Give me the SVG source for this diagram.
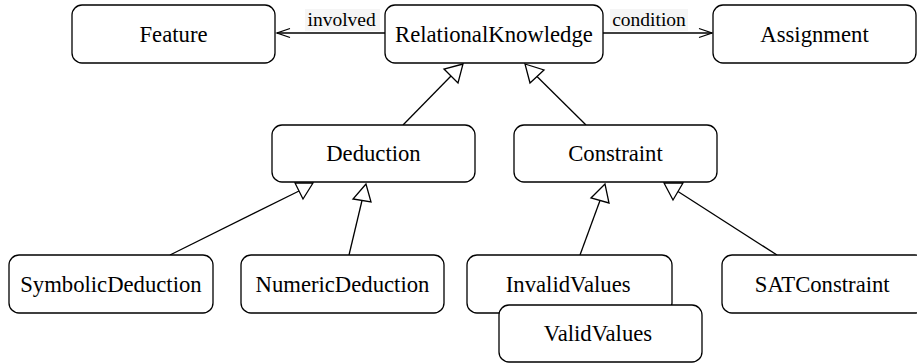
<svg xmlns="http://www.w3.org/2000/svg" width="917" height="363" viewBox="0 0 917 363" font-family="'Liberation Serif', 'Times New Roman', 'DejaVu Serif', serif">
<style>
.box{fill:#fff;stroke:#000;stroke-width:1.3}
.edge line,.edge polyline{stroke:#000;stroke-width:1.3;fill:none}
.edge polygon{fill:#fff;stroke:#000;stroke-width:1.3}
.lblbg{fill:#f5f5f5}
</style>
<rect width="917" height="363" fill="#fff"/>
<g id="connectors" class="edge">
  <rect class="lblbg" x="305" y="9" width="75" height="22"/>
  <text x="307.5" y="26" font-family="serif" font-size="19.5">involved</text>
  <line x1="385" y1="33" x2="277" y2="33"/>
  <polyline points="290,28.5 277,33 290,37.5"/>
  <rect class="lblbg" x="610" y="9" width="78" height="22"/>
  <text x="612.2" y="26" font-family="serif" font-size="19.5">condition</text>
  <line x1="603" y1="33" x2="712" y2="33"/>
  <polyline points="699,28.5 712,33 699,37.5"/>
  <line x1="403" y1="125" x2="451" y2="76"/>
  <polygon points="463,64 444,69 458,83"/>
  <line x1="586" y1="125" x2="537" y2="76.5"/>
  <polygon points="525,64 544,70 530,83"/>
  <line x1="170" y1="255" x2="299" y2="191"/>
  <polygon points="313,183 295,183 303,199"/>
  <line x1="349" y1="255" x2="362" y2="200.5"/>
  <polygon points="366,184 353,199 371,202"/>
  <line x1="580" y1="255" x2="600" y2="200.5"/>
  <polygon points="605,184 591,198 609,203"/>
  <line x1="777" y1="255" x2="678" y2="191.5"/>
  <polygon points="664,183 683,183 673,200"/>
</g>
<g id="Feature"><rect class="box" x="72" y="5" width="203" height="58" rx="10"/><text x="139.5" y="41.5" font-family="serif" font-size="22.7">Feature</text></g>
<g id="RelationalKnowledge"><rect class="box" x="385" y="5" width="218" height="58" rx="10"/><text x="395" y="41.5" font-family="serif" font-size="22.7">RelationalKnowledge</text></g>
<g id="Assignment"><rect class="box" x="713" y="5" width="203" height="58" rx="10"/><text x="760.3" y="41.5" font-family="serif" font-size="22.7">Assignment</text></g>
<g id="Deduction"><rect class="box" x="272" y="125" width="203" height="57" rx="10"/><text x="326.2" y="161" font-family="serif" font-size="22.7">Deduction</text></g>
<g id="Constraint"><rect class="box" x="514" y="125" width="203" height="57" rx="10"/><text x="568.2" y="161" font-family="serif" font-size="22.7">Constraint</text></g>
<g id="SymbolicDeduction"><rect class="box" x="9" y="255" width="204" height="58" rx="10"/><text x="20.2" y="291.5" font-family="serif" font-size="22.7">SymbolicDeduction</text></g>
<g id="NumericDeduction"><rect class="box" x="241" y="255" width="203" height="58" rx="10"/><text x="255.5" y="291.5" font-family="serif" font-size="22.7">NumericDeduction</text></g>
<g id="InvalidValues"><rect class="box" x="467" y="255" width="205" height="58" rx="10"/><text x="505.8" y="291.5" font-family="serif" font-size="22.7">InvalidValues</text></g>
<g id="ValidValues"><rect class="box" x="499" y="305" width="203" height="57" rx="10"/><text x="543.8" y="341" font-family="serif" font-size="22.7">ValidValues</text></g>
<g id="SATConstraint"><rect class="box" x="722" y="255" width="203" height="58" rx="10"/><text x="754.8" y="291.5" font-family="serif" font-size="22.7">SATConstraint</text></g>
</svg>
